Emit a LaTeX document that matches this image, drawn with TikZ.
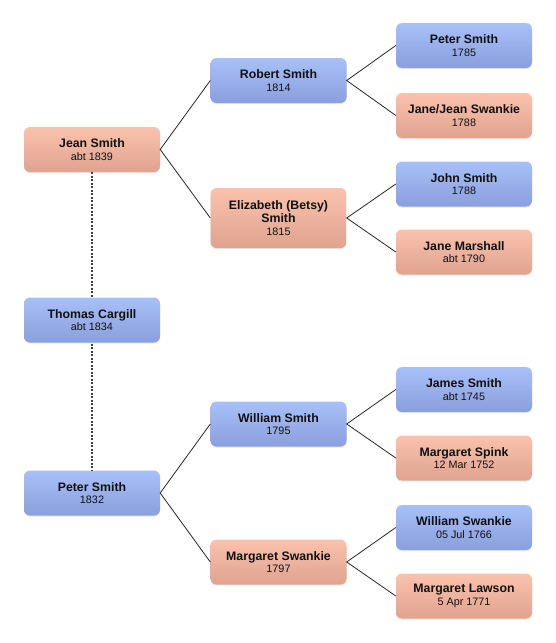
\documentclass[tikz,border=0pt]{standalone}
\usepackage{fontspec}
\setmainfont{Liberation Sans}
\usetikzlibrary{shadows}
\definecolor{btop}{HTML}{A8C0FA}
\definecolor{bbot}{HTML}{8A9FDC}
\definecolor{ptop}{HTML}{FAC2AD}
\definecolor{pbot}{HTML}{DFA38F}
\definecolor{txt}{HTML}{111111}
\newcommand{\nm}[1]{{\fontsize{12.3}{12.8}\selectfont\bfseries #1}}
\tikzset{
  person/.style={rounded corners=6pt, minimum width=136pt, minimum height=45pt,
    inner sep=0pt, align=center, text=txt,
    font=\fontsize{10.8}{12.8}\selectfont,
    drop shadow={opacity=0.18, shadow xshift=0pt, shadow yshift=-1.2pt}},
  male/.style={person, top color=btop, bottom color=bbot},
  female/.style={person, top color=ptop, bottom color=pbot},
  link/.style={draw=black!85, line width=0.8pt},
  spouse/.style={draw=black!75, line width=1.3pt, dash pattern=on 2pt off 1.5pt}
}
\begin{document}
\begin{tikzpicture}[x=1pt,y=-1pt]
\useasboundingbox (0,0) rectangle (556,643);
% column 1
\node[female] (jean) at (92,149.5) {\nm{Jean Smith}\\abt 1839};
\node[male] (peter) at (92,493) {\nm{Peter Smith}\\1832};
\draw[spouse] (jean.south) -- (peter.north);
\node[male] (thomas) at (92,320) {\nm{Thomas Cargill}\\abt 1834};
% column 2
\node[male] (robert) at (278.5,80.5) {\nm{Robert Smith}\\1814};
\node[female, minimum height=60pt] (eliz) at (278.5,218) {\nm{Elizabeth (Betsy)}\\\nm{Smith}\\1815};
\node[male] (william) at (278.5,424) {\nm{William Smith}\\1795};
\node[female] (margsw) at (278.5,562) {\nm{Margaret Swankie}\\1797};
% column 3
\node[male] (peter2) at (464,45.5) {\nm{Peter Smith}\\1785};
\node[female] (janej) at (464,115.5) {\nm{Jane/Jean Swankie}\\1788};
\node[male] (john) at (464,184) {\nm{John Smith}\\1788};
\node[female] (janem) at (464,252) {\nm{Jane Marshall}\\abt 1790};
\node[male] (james) at (464,389.5) {\nm{James Smith}\\abt 1745};
\node[female] (spink) at (464,458) {\nm{Margaret Spink}\\12 Mar 1752};
\node[male] (wswan) at (464,527.5) {\nm{William Swankie}\\05 Jul 1766};
\node[female] (lawson) at (464,596) {\nm{Margaret Lawson}\\5 Apr 1771};
% connectors
\draw[link] (robert.west) -- (jean.east) -- (eliz.west);
\draw[link] (william.west) -- (peter.east) -- (margsw.west);
\draw[link] (peter2.west) -- (robert.east) -- (janej.west);
\draw[link] (john.west) -- (eliz.east) -- (janem.west);
\draw[link] (james.west) -- (william.east) -- (spink.west);
\draw[link] (wswan.west) -- (margsw.east) -- (lawson.west);
\end{tikzpicture}
\end{document}
